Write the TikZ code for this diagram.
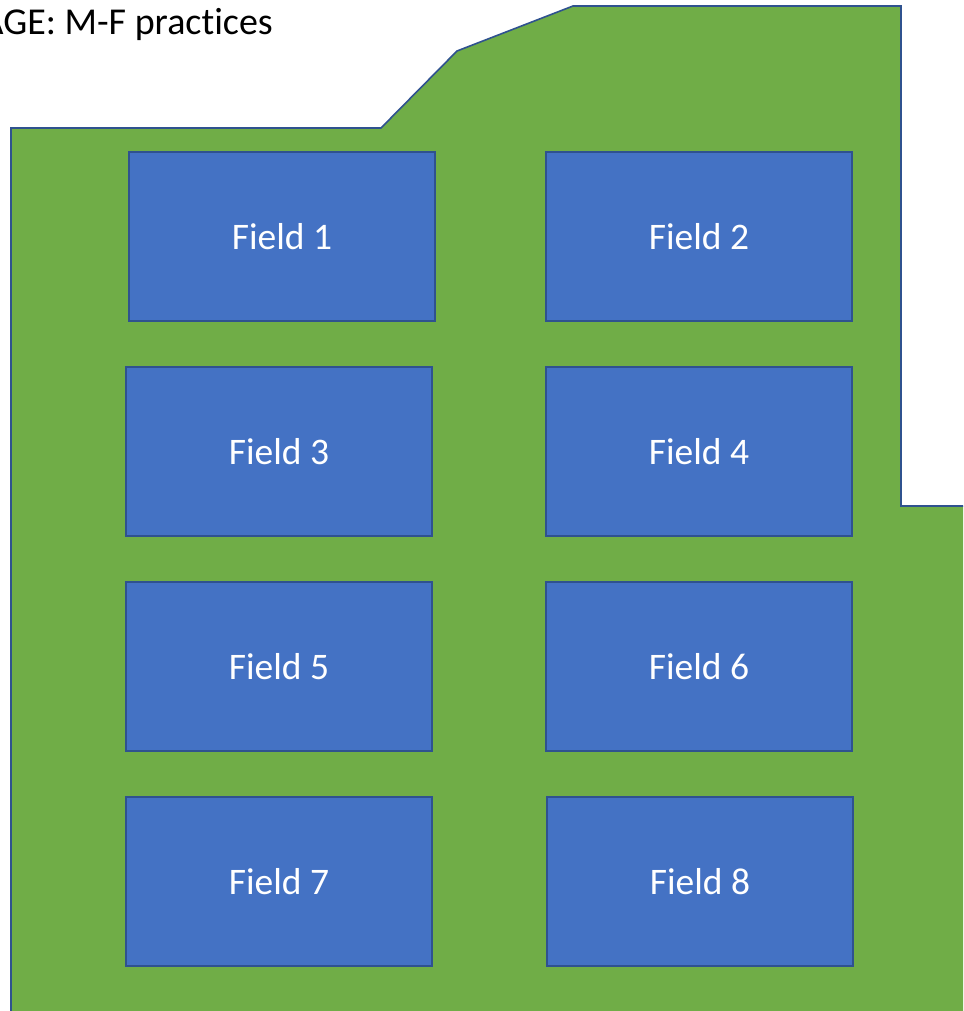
\documentclass[tikz,border=0pt]{standalone}
\usepackage{fontspec}
\setmainfont[Ligatures=NoCommon]{Carlito}
\definecolor{landgreen}{HTML}{70AD47}
\definecolor{fieldblue}{HTML}{4472C4}
\definecolor{edgeblue}{HTML}{2F528F}
\begin{document}
\begin{tikzpicture}[x=1pt,y=-1pt,
  field/.style={draw=edgeblue,line width=1.3pt,fill=fieldblue,text=white,font=\fontsize{37.5}{44}\selectfont,inner sep=0pt,minimum width=306,minimum height=169}]
\useasboundingbox (0,0) rectangle (963,1011);
\clip (0,0) rectangle (963,1011);
\fill[white] (0,0) rectangle (963,1011);
\draw[edgeblue,line width=1.6pt,fill=landgreen,line join=miter]
  (11,1030) -- (11,128) -- (381,128) -- (457,51) -- (573,6) -- (901,6) -- (901,506) -- (980,506) -- (980,1030) -- cycle;
\node[anchor=base east,inner sep=0pt,font=\fontsize{38}{44}\selectfont] (title) at (273,35) {AGE: M-F practices};
\node[field] (f1) at (282,236.5) {Field 1};
\node[field] (f2) at (699,236.5) {Field 2};
\node[field] (f3) at (279,451.5) {Field 3};
\node[field] (f4) at (699,451.5) {Field 4};
\node[field] (f5) at (279,666.5) {Field 5};
\node[field] (f6) at (699,666.5) {Field 6};
\node[field] (f7) at (279,881.5) {Field 7};
\node[field] (f8) at (700,881.5) {Field 8};
\end{tikzpicture}
\end{document}
